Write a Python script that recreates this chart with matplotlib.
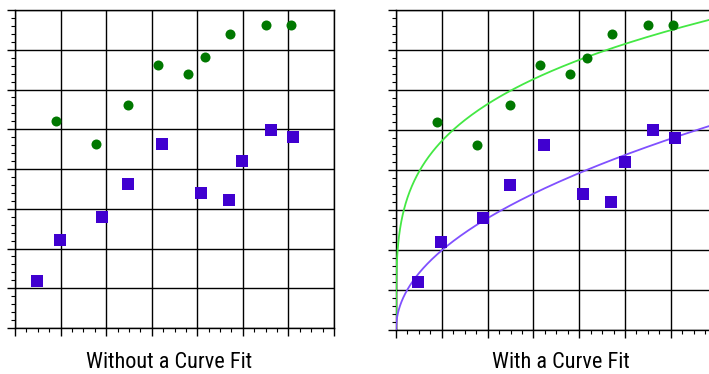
import numpy as np
import matplotlib
matplotlib.use("Agg")
import matplotlib.pyplot as plt
from matplotlib.ticker import MultipleLocator

# === Données ===
green_x = [0.90, 1.77, 2.48, 3.14, 3.79, 4.18, 4.71, 5.50, 6.05]
green_y = [5.21, 4.62, 5.62, 6.62, 6.40, 6.81, 7.40, 7.63, 7.63]
blue_x = [0.48, 0.99, 1.90, 2.48, 3.23, 4.08, 4.69, 4.99, 5.61, 6.09]
blue_y = [1.19, 2.21, 2.79, 3.62, 4.62, 3.40, 3.21, 4.20, 4.99, 4.81]
titles = ["Without a Curve Fit", "With a Curve Fit"]

W, H = 709, 374
fig = plt.figure(figsize=(W / 100, H / 100), dpi=100)

# positions des axes en pixels : (gauche, bas, largeur, hauteur)
boxes = [(15, 328, 319, 318), (396, 330, 320.6, 320)]


def power_fit(x, y):
    # y = a * x^b  -> régression linéaire en log-log
    b, ln_a = np.polyfit(np.log(x), np.log(y), 1)
    return np.exp(ln_a), b


def style_axes(ax):
    ax.set_xlim(0, 7)
    ax.set_ylim(0, 8)
    ax.xaxis.set_major_locator(MultipleLocator(1))
    ax.xaxis.set_minor_locator(MultipleLocator(0.25))
    ax.yaxis.set_major_locator(MultipleLocator(1))
    ax.yaxis.set_minor_locator(MultipleLocator(0.2))
    ax.set_xticklabels([])
    ax.set_yticklabels([])
    ax.grid(True, which="major", color="black", linewidth=1.0)
    ax.tick_params(which="major", length=5.5, width=1.0, color="black", direction="out")
    ax.tick_params(which="minor", length=2.6, width=0.8, color="black", direction="out")
    for s in ax.spines.values():
        s.set_color("black")
        s.set_linewidth(1.0)
    ax.set_axisbelow(True)


axes = []
for (l, b, w, h) in boxes:
    ax = fig.add_axes([l / W, (H - b) / H, w / W, h / H])
    style_axes(ax)
    ax.scatter(green_x, green_y, s=52, marker="o", color="#007800", zorder=4, linewidths=0)
    ax.scatter(blue_x, blue_y, s=72, marker="s", color="#4000d0", zorder=4, linewidths=0)
    axes.append(ax)

# === Courbes d'ajustement (panneau de droite) ===
xs = np.geomspace(1e-5, 7.5, 600)
a_g, b_g = power_fit(np.array(green_x), np.array(green_y))
a_b, b_b = power_fit(np.array(blue_x), np.array(blue_y))
axes[1].plot(xs, a_g * xs ** b_g, color="#44e844", linewidth=1.3, zorder=3)
axes[1].plot(xs, a_b * xs ** b_b, color="#8050ff", linewidth=1.3, zorder=3)

# === Titres sous les graphiques ===
font = ["Roboto Condensed", "DejaVu Sans"]
fig.text(169.5 / W, 1 - 368 / H, titles[0], ha="center", va="baseline", fontsize=16, family=font)
fig.text(561 / W, 1 - 368 / H, titles[1], ha="center", va="baseline", fontsize=16, family=font)

fig.savefig("out.png", dpi=100)
